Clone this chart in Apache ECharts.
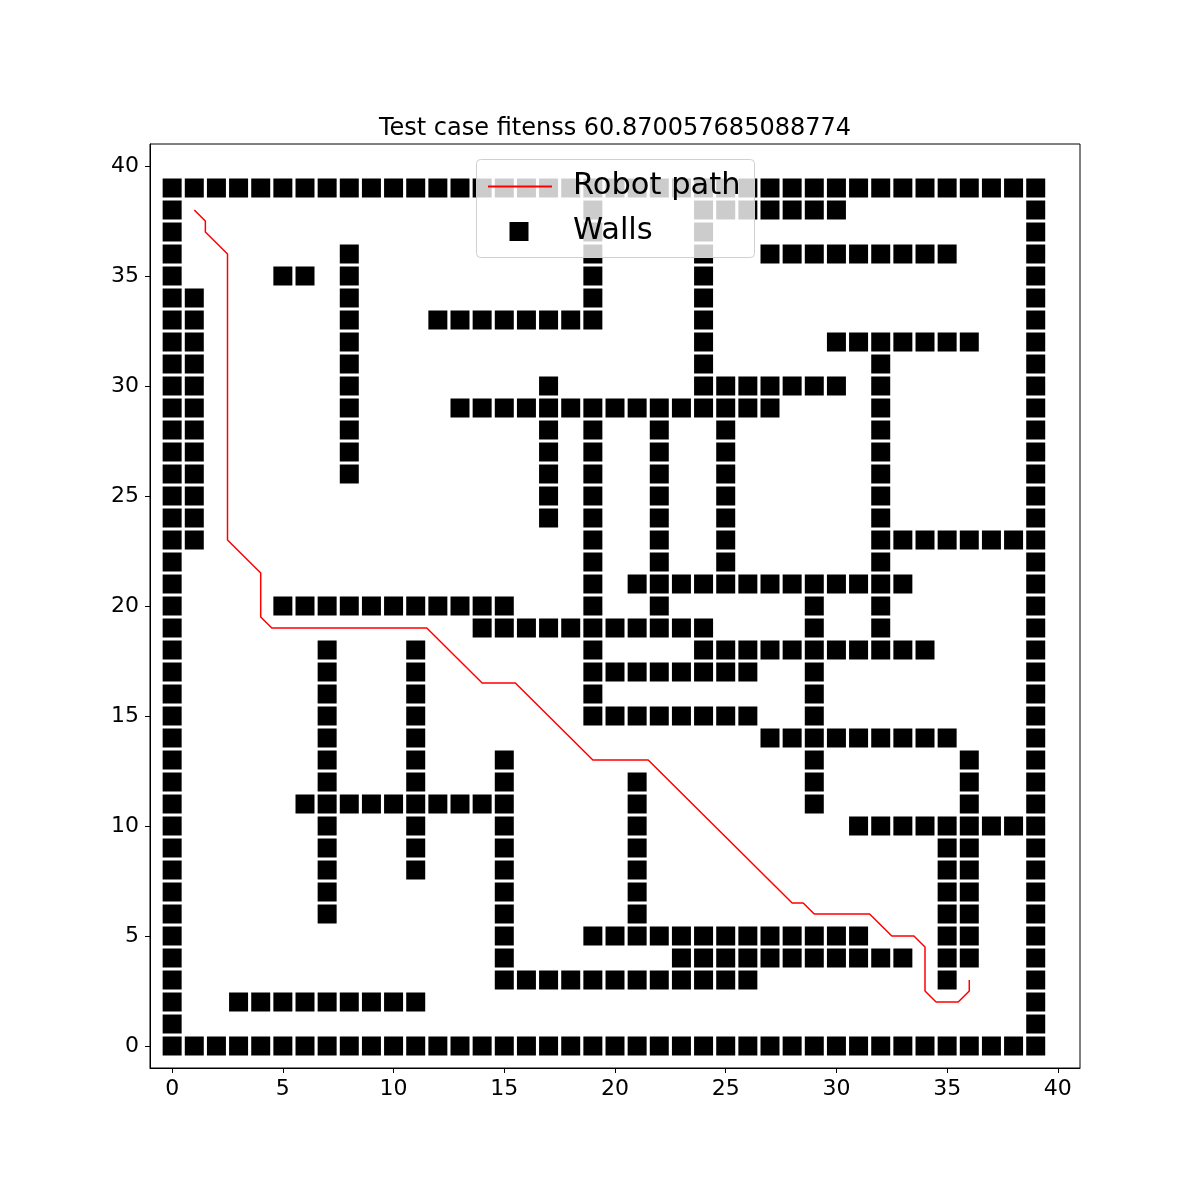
<!DOCTYPE html>
<html>
<head>
<meta charset="utf-8">
<script src="https://cdn.jsdelivr.net/npm/echarts@6/dist/echarts.min.js"></script>
<style>html,body{margin:0;padding:0;background:#fff;}#chart{width:1200px;height:1200px;}</style>
</head>
<body>
<div id="chart"></div>
<script>
const titleText = "Test case fitenss 60.870057685088774";
const seriesNames = ["Robot path", "Walls"];
const tickValues = [0, 5, 10, 15, 20, 25, 30, 35, 40];

// wall map, top row is y = 39, character index is x
const wallRows = [
  "########################################", // 39
  "#..................#....#######........#", // 38
  "#..................#....#..............#", // 37
  "#.......#..........#....#..#########...#", // 36
  "#....##.#..........#....#..............#", // 35
  "##......#..........#....#..............#", // 34
  "##......#...########....#..............#", // 33
  "##......#...............#.....#######..#", // 32
  "##......#...............#.......#......#", // 31
  "##......#........#......#######.#......#", // 30
  "##......#....###############....#......#", // 29
  "##......#........#.#..#..#......#......#", // 28
  "##......#........#.#..#..#......#......#", // 27
  "##......#........#.#..#..#......#......#", // 26
  "##...............#.#..#..#......#......#", // 25
  "##...............#.#..#..#......#......#", // 24
  "##.................#..#..#......########", // 23
  "#..................#..#..#......#......#", // 22
  "#..................#.#############.....#", // 21
  "#....###########...#..#......#..#......#", // 20
  "#.............###########....#..#......#", // 19
  "#......#...#.......#....###########....#", // 18
  "#......#...#.......########..#.........#", // 17
  "#......#...#.......#.........#.........#", // 16
  "#......#...#.......########..#.........#", // 15
  "#......#...#...............#########...#", // 14
  "#......#...#...#.............#......#..#", // 13
  "#......#...#...#.....#.......#......#..#", // 12
  "#.....##########.....#.......#......#..#", // 11
  "#......#...#...#.....#.........#########", // 10
  "#......#...#...#.....#.............##..#", // 9
  "#......#...#...#.....#.............##..#", // 8
  "#......#.......#.....#.............##..#", // 7
  "#......#.......#.....#.............##..#", // 6
  "#..............#...#############...##..#", // 5
  "#..............#.......###########.##..#", // 4
  "#..............############........#...#", // 3
  "#..#########...........................#", // 2
  "#......................................#", // 1
  "########################################"  // 0
];

const pathX = [1, 1.5, 1.5, 2.5, 2.5, 4, 4, 4.5, 11.5, 14, 15.5, 19, 21.5, 28, 28.5, 29, 31.5, 32.5, 33.5, 34, 34, 34.5, 35.5, 36, 36];
const pathY = [38, 37.5, 37, 36, 23, 21.5, 19.5, 19, 19, 16.5, 16.5, 13, 13, 6.5, 6.5, 6, 6, 5, 5, 4.5, 2.5, 2, 2, 2.5, 3];

const wallPoints = [];
wallRows.forEach(function (row, i) {
  const y = wallRows.length - 1 - i;
  for (let x = 0; x < row.length; x++) {
    if (row[x] === '#') wallPoints.push([x, y]);
  }
});
const pathPoints = pathX.map(function (x, i) { return [x, pathY[i]]; });

const font = 'DejaVu Sans';
const chart = echarts.init(document.getElementById('chart'), null, {renderer: 'canvas'});
function axisCfg(margin) {
  return {
    type: 'value', min: -1, max: 41,
    splitLine: {show: false},
    axisLine: {show: true, onZero: false, lineStyle: {color: '#000', width: 1}},
    axisTick: {show: true, length: 5, lineStyle: {color: '#000', width: 1}, customValues: tickValues},
    axisLabel: {show: true, fontSize: 22, color: '#000', fontFamily: font, margin: margin, customValues: tickValues}
  };
}
chart.setOption({
  animation: false,
  backgroundColor: '#fff',
  title: {
    text: titleText, left: 615, textAlign: 'center', top: 117, padding: 0,
    textStyle: {fontSize: 24, fontWeight: 'normal', color: '#000', fontFamily: font}
  },
  grid: {left: 150, right: 120, top: 144, bottom: 132, show: true, borderColor: '#000', borderWidth: 1, backgroundColor: 'transparent'},
  xAxis: axisCfg(10),
  yAxis: axisCfg(11),
  graphic: [{
    type: 'rect', left: 476, top: 159, z: 100,
    shape: {width: 278, height: 98, r: 4},
    style: {fill: 'rgba(255,255,255,0.8)', stroke: '#d0d0d0', lineWidth: 1}
  }],
  legend: [{
    data: [{name: seriesNames[0], icon: 'rect'}], orient: 'vertical', left: 488, top: 171, padding: 0, z: 200,
    itemWidth: 64, itemHeight: 2,
    itemStyle: {color: '#ff0000'},
    textStyle: {fontSize: 30.5, color: '#000', fontFamily: font, padding: [0, 0, 0, 16]}
  }, {
    data: [{name: seriesNames[1], icon: 'rect'}], orient: 'vertical', left: 509.5, top: 216, padding: 0, z: 200,
    itemWidth: 19, itemHeight: 19,
    textStyle: {fontSize: 30.5, color: '#000', fontFamily: font, padding: [0, 0, 0, 39.5]}
  }],
  series: [{
    name: seriesNames[0], type: 'line', data: pathPoints,
    symbol: 'none', showSymbol: false, z: 2,
    lineStyle: {color: '#ff0000', width: 1.5},
    itemStyle: {color: '#ff0000'}
  }, {
    name: seriesNames[1], type: 'scatter', data: wallPoints,
    symbol: 'rect', symbolSize: 19, z: 3,
    itemStyle: {color: '#000', opacity: 1}
  }]
});
</script>
</body>
</html>
